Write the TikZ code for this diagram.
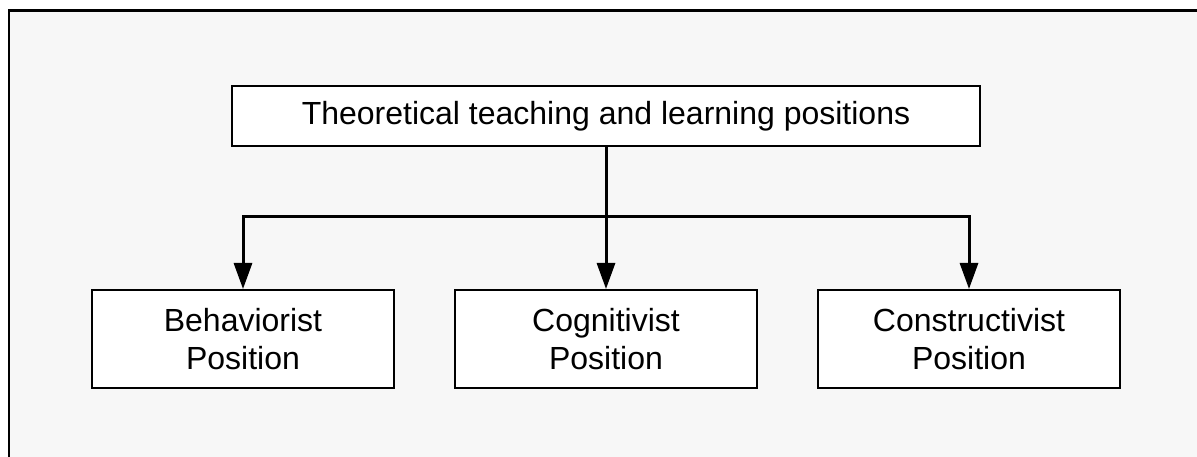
\documentclass[tikz,border=0pt]{standalone}
\usepackage{fontspec}
\setmainfont{Liberation Sans}
\usetikzlibrary{arrows.meta}
\definecolor{panel}{HTML}{F7F7F7}
\tikzset{
  box/.style={draw=black, line width=2pt, fill=white, rectangle, align=center,
    inner sep=0pt, font=\fontsize{32}{38}\selectfont},
  conn/.style={draw=black, line width=3pt, -{Triangle[length=26pt,width=18pt]}}
}
\begin{document}
\begin{tikzpicture}[x=1pt,y=-1pt]
  \useasboundingbox (0,0) rectangle (1197,457);
  % panel with its left and top edges
  \fill[panel] (9,10.5) rectangle (1197,457);
  \draw[line width=2.5pt] (9,457) -- (9,10.5) -- (1197,10.5);

  % boxes
  \node[box, minimum width=748pt, minimum height=60pt] (top) at (606,116)
    {\raisebox{-2pt}{Theoretical teaching and learning positions}};
  \node[box, minimum width=302pt, minimum height=98pt] (beh) at (243,339)
    {Behaviorist\\Position};
  \node[box, minimum width=302pt, minimum height=98pt] (cog) at (606,339)
    {Cognitivist\\Position};
  \node[box, minimum width=302pt, minimum height=98pt] (con) at (969,339)
    {Constructivist\\Position};

  % connectors
  \coordinate (split) at (606,217);
  \draw[conn] (top.south) -- (cog.north);
  \draw[conn] (split) -| (beh.north);
  \draw[conn] (split) -| (con.north);
\end{tikzpicture}
\end{document}
